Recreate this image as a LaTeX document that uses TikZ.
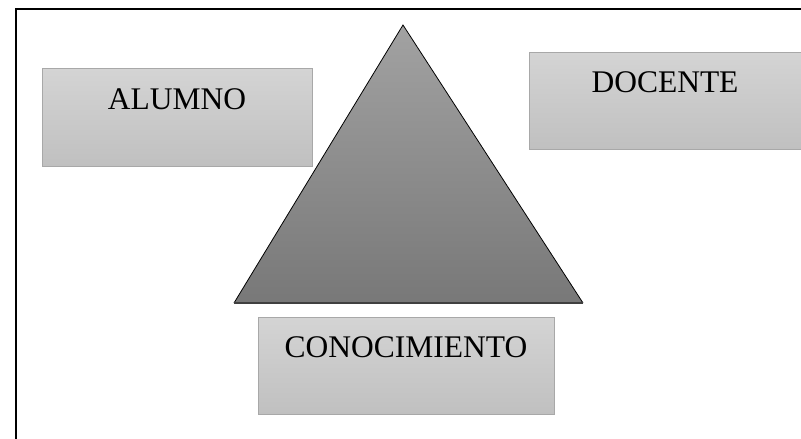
\documentclass[tikz,border=0pt]{standalone}
\usepackage{fontspec}
\setmainfont{Liberation Serif}
\usepackage{xcolor}
\usepackage{tikz}
\usetikzlibrary{positioning}

\definecolor{boxtop}{HTML}{D4D4D4}
\definecolor{boxbottom}{HTML}{C0C0C0}
\definecolor{boxline}{HTML}{A8A8A8}
\definecolor{tritop}{HTML}{A2A2A2}
\definecolor{tribottom}{HTML}{787878}
\definecolor{tribase}{HTML}{404040}

\begin{document}
\begin{tikzpicture}[
    x=1pt,y=-1pt,
    box/.style={draw=boxline,line width=1pt,top color=boxtop,bottom color=boxbottom,
      inner sep=0pt,minimum height=97pt,text height=20pt,text depth=36pt,
      font=\fontsize{31.5}{36}\selectfont},
    frame/.style={line width=2pt,black}
  ]
    \useasboundingbox (0,0) rectangle (801,439);
    % outer frame (only left and top edges visible)
    \draw[frame] (16,439) -- (16,9) -- (801,9);
    % triangle
    \coordinate (apex) at (403,25);
    \coordinate (baseL) at (234,303);
    \coordinate (baseR) at (583,303);
    \shade[top color=tritop,bottom color=tribottom] (apex) -- (baseR) -- (baseL) -- cycle;
    \draw[line width=0.8pt] (baseL) -- (apex) -- (baseR);
    \draw[tribase,line width=2pt] (baseL) -- (baseR);
    % boxes
    \node[box,minimum width=270pt,minimum height=98pt] (alumno) at (177,117) {ALUMNO};
    \node[box,minimum width=272pt] (docente) at (665,100.5) {DOCENTE};
    \node[box,minimum width=296pt] (conoc) at (406,365.5) {CONOCIMIENTO};
  \end{tikzpicture}
\end{document}
